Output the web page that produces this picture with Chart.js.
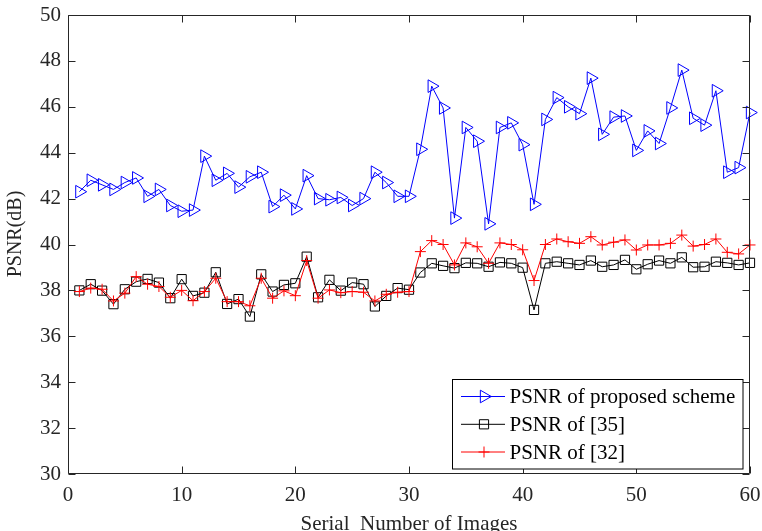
<!DOCTYPE html>
<html><head><meta charset="utf-8">
<script src="https://cdn.jsdelivr.net/npm/chart.js@4.4.1/dist/chart.umd.min.js"></script>
<style>html,body{margin:0;padding:0;background:#fff;overflow:hidden}#wrap{width:762px;height:531px}</style>
</head><body><div id="wrap"><canvas id="c" width="762" height="531"></canvas></div>
<script>
const imageNumbers = [1,2,3,4,5,6,7,8,9,10,11,12,13,14,15,16,17,18,19,20,21,22,23,24,25,26,27,28,29,30,31,32,33,34,35,36,37,38,39,40,41,42,43,44,45,46,47,48,49,50,51,52,53,54,55,56,57,58,59,60];
const psnrProposed = [42.3,42.8,42.6,42.4,42.7,42.9,42.1,42.4,41.7,41.45,41.5,43.85,42.8,43.1,42.5,42.95,43.15,41.65,42.15,41.55,43.0,42.0,41.95,42.05,41.7,42.0,43.15,42.7,42.1,42.1,44.15,46.9,45.95,41.15,45.1,44.5,40.9,45.1,45.3,44.35,41.75,45.45,46.4,46.0,45.7,47.25,44.8,45.55,45.6,44.1,44.95,44.4,45.95,47.6,45.5,45.2,46.7,43.15,43.35,45.75];
const psnrRef35 = [38.0,38.27,37.99,37.4,38.05,38.38,38.5,38.34,37.66,38.49,37.76,37.9,38.79,37.41,37.62,36.86,38.7,37.95,38.24,38.31,39.47,37.7,38.46,37.99,38.34,38.27,37.3,37.76,38.1,38.03,38.78,39.18,39.07,38.97,39.2,39.18,39.03,39.22,39.18,38.99,37.15,39.18,39.25,39.18,39.11,39.3,39.03,39.11,39.33,38.92,39.14,39.3,39.18,39.44,39.01,39.03,39.25,39.2,39.11,39.2];
const psnrRef32 = [37.95,38.1,38.05,37.54,37.88,38.6,38.27,38.17,37.7,38.0,37.55,37.95,38.53,37.51,37.51,37.33,38.53,37.66,37.98,37.77,39.3,37.66,38.02,37.9,37.95,37.92,37.54,37.83,37.92,37.95,39.69,40.17,40.0,39.11,40.07,39.9,39.18,40.07,40.0,39.77,38.43,40.0,40.24,40.12,40.05,40.34,39.98,40.1,40.2,39.76,39.98,39.98,40.05,40.41,39.93,40.0,40.24,39.66,39.59,39.98];
const xTickValues = [0,10,20,30,40,50,60];
const yTickValues = [30,32,34,36,38,40,42,44,46,48,50];
const seriesLabels = ['PSNR of proposed scheme','PSNR of [35]','PSNR of [32]'];
const xAxisTitle = 'Serial  Number of Images';
const yAxisTitle = 'PSNR(dB)';

const AXIS_COLOR = '#262626';
const FONT = "'Liberation Serif', 'Times New Roman', serif";

function toPoints(ys){ return imageNumbers.map((x,i)=>({x:x,y:ys[i]})); }

function drawMarker(ctx, style, x, y, r, color){
  ctx.save();
  ctx.strokeStyle = color; ctx.lineWidth = 1;
  ctx.beginPath();
  if(style==='triangle'){
    let rad = Math.PI/2;
    ctx.moveTo(x+Math.sin(rad)*r, y-Math.cos(rad)*r);
    rad += 2*Math.PI/3;
    ctx.lineTo(x+Math.sin(rad)*r, y-Math.cos(rad)*r);
    rad += 2*Math.PI/3;
    ctx.lineTo(x+Math.sin(rad)*r, y-Math.cos(rad)*r);
    ctx.closePath();
  } else if(style==='rect'){
    const s = r*Math.SQRT1_2;
    ctx.rect(x-s,y-s,2*s,2*s);
  } else if(style==='cross'){
    ctx.moveTo(x,y-r); ctx.lineTo(x,y+r);
    ctx.moveTo(x-r,y); ctx.lineTo(x+r,y);
  }
  ctx.stroke();
  ctx.restore();
}

const framePlugin = {
  id:'frameAndLegend',
  afterDraw(chart){
    const ctx = chart.ctx;
    const a = chart.chartArea;
    const xs = chart.scales.x, ys = chart.scales.y;
    ctx.save();
    ctx.strokeStyle = AXIS_COLOR;
    ctx.lineWidth = 1;
    const L = Math.round(a.left)+0.5, R = Math.round(a.right)-0.5, T = Math.round(a.top)+0.5, B = Math.round(a.bottom)-0.5;
    ctx.beginPath();
    ctx.rect(L, T, R-L, B-T);
    const tl = 7;
    xTickValues.forEach(v=>{
      const px = Math.round(xs.getPixelForValue(v))+0.5;
      ctx.moveTo(px,B); ctx.lineTo(px,B-tl);
      ctx.moveTo(px,T); ctx.lineTo(px,T+tl);
    });
    yTickValues.forEach(v=>{
      const py = Math.round(ys.getPixelForValue(v))+0.5;
      ctx.moveTo(L,py); ctx.lineTo(L+tl,py);
      ctx.moveTo(R,py); ctx.lineTo(R-tl,py);
    });
    ctx.stroke();

    // y axis title
    ctx.fillStyle = AXIS_COLOR;
    ctx.font = '20px ' + FONT;
    ctx.textAlign = 'center';
    ctx.textBaseline = 'alphabetic';
    ctx.translate(21, 234);
    ctx.rotate(-Math.PI/2);
    ctx.fillText(yAxisTitle, 0, 0);
    ctx.restore();

    // legend
    ctx.save();
    const bx = 452.5, by = 379.5, bw = 290.5, bh = 89.5;
    ctx.fillStyle = '#ffffff';
    ctx.fillRect(bx, by, bw, bh);
    ctx.strokeStyle = '#000000';
    ctx.lineWidth = 1;
    ctx.strokeRect(bx, by, bw, bh);
    const rows = [396.5, 424.3, 452];
    chart.data.datasets.forEach((ds,i)=>{
      const y = rows[i];
      ctx.strokeStyle = ds.borderColor;
      ctx.lineWidth = 1;
      ctx.beginPath(); ctx.moveTo(461, y); ctx.lineTo(505, y); ctx.stroke();
      drawMarker(ctx, ds.pointStyle, 484, y, ds.pointRadius, ds.borderColor);
      ctx.fillStyle = '#000000';
      ctx.font = '21px ' + FONT;
      ctx.textAlign = 'left';
      ctx.textBaseline = 'middle';
      ctx.fillText(ds.label, 509.5, y+1);
    });
    ctx.restore();
  }
};

const tickFont = {family: FONT, size: 21, lineHeight: 1.2};
function zeroPad(s){ s.paddingLeft = 0; s.paddingRight = 0; s.paddingTop = 0; s.paddingBottom = 0; }

new Chart(document.getElementById('c'), {
  type:'line',
  data:{
    datasets:[
      {label:seriesLabels[0], data:toPoints(psnrProposed), borderColor:'#0000ff', backgroundColor:'rgba(0,0,0,0)',
       pointStyle:'triangle', rotation:90, pointRadius:7.3, pointBorderWidth:1, pointBackgroundColor:'rgba(0,0,0,0)',
       pointBorderColor:'#0000ff', borderWidth:1, tension:0, clip:false, order:2},
      {label:seriesLabels[1], data:toPoints(psnrRef35), borderColor:'#000000', backgroundColor:'rgba(0,0,0,0)',
       pointStyle:'rect', pointRadius:6.5, pointBorderWidth:1, pointBackgroundColor:'rgba(0,0,0,0)',
       pointBorderColor:'#000000', borderWidth:1, tension:0, clip:false, order:1},
      {label:seriesLabels[2], data:toPoints(psnrRef32), borderColor:'#ff0000', backgroundColor:'rgba(0,0,0,0)',
       pointStyle:'cross', pointRadius:5.5, pointBorderWidth:1, pointBackgroundColor:'rgba(0,0,0,0)',
       pointBorderColor:'#ff0000', borderWidth:1, tension:0, clip:false, order:0}
    ]
  },
  options:{
    responsive:false,
    animation:false,
    events:[],
    layout:{padding:{top:15,right:12,left:0,bottom:0}},
    plugins:{legend:{display:false}, tooltip:{enabled:false}},
    scales:{
      x:{
        type:'linear', min:0, max:60,
        afterBuildTicks(s){ s.ticks = xTickValues.map(v=>({value:v})); },
        afterFit(s){ s.height = 57; zeroPad(s); },
        grid:{display:false, drawTicks:false},
        border:{display:false},
        ticks:{font:tickFont, color:AXIS_COLOR, padding:9, maxRotation:0, autoSkip:false},
        title:{display:true, text:xAxisTitle, color:AXIS_COLOR, font:{family:FONT, size:21, lineHeight:1}, padding:{top:0,bottom:-3.6}}
      },
      y:{
        type:'linear', min:30, max:50,
        afterBuildTicks(s){ s.ticks = yTickValues.map(v=>({value:v})); },
        afterFit(s){ s.width = 68; zeroPad(s); },
        grid:{display:false, drawTicks:false},
        border:{display:false},
        ticks:{font:tickFont, color:AXIS_COLOR, padding:7, autoSkip:false}
      }
    }
  },
  plugins:[framePlugin]
});
</script>
</body></html>
